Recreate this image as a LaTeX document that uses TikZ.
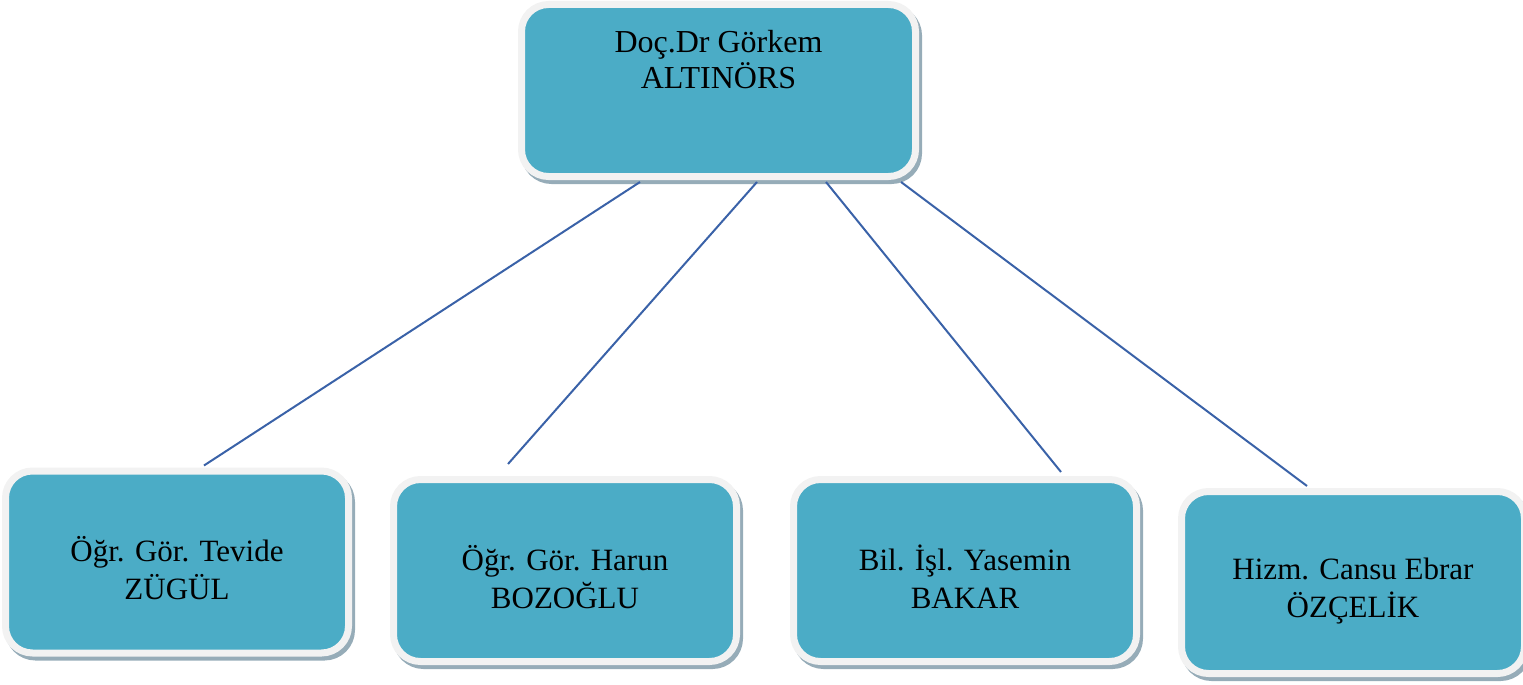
\documentclass[tikz,border=0pt]{standalone}
\usepackage{fontspec}
\setmainfont{Liberation Serif}
\usetikzlibrary{positioning,shadows,calc}
\definecolor{boxfill}{RGB}{75,172,198}
\definecolor{boxrim}{RGB}{242,242,242}
\definecolor{boxshade}{RGB}{150,172,184}
\definecolor{linkblue}{RGB}{58,98,168}
\newcommand{\upstrut}{\rule{0pt}{38pt}}

\begin{document}
\begin{tikzpicture}[x=1pt,y=-1pt,
    person/.style={draw=boxrim,fill=boxfill,line width=7pt,rounded corners=27pt,
      minimum width=343pt,minimum height=182pt,inner sep=0pt,align=center,
      font=\fontsize{31}{38}\selectfont,
      drop shadow={shadow xshift=3pt,shadow yshift=-4pt,fill=boxshade,
        draw=boxshade,line width=7pt,opacity=1}},
    link/.style={draw=linkblue,line width=2pt}]
    \useasboundingbox (0,0) rectangle (1523,685);

    % head of department
    \node[person,minimum width=394pt,minimum height=172pt] (dekan) at (718.5,90.5) {};
    \node[below=29pt of dekan.north,inner sep=0pt,align=center,
      font=\fontsize{32}{36}\selectfont] (dekanad) {Doç.Dr Görkem\\ALTINÖRS};

    % staff
    \node[person] (ogr1) at (177,562) {\upstrut Öğr. Gör. Tevide\\ZÜGÜL};
    \node[person] (ogr2) at (565,570.5) {\upstrut Öğr. Gör. Harun\\BOZOĞLU};
    \node[person] (bil) at (965,570.5) {\upstrut Bil. İşl. Yasemin\\BAKAR};
    \node[person] (hizm) at (1353,582.5) {\upstrut Hizm. Cansu Ebrar\\ÖZÇELİK};

    \draw[link] ([xshift=-78.5pt,yshift=-2pt]dekan.south) -- ([xshift=27pt,yshift=2pt]ogr1.north);
    \draw[link] ([xshift=38.5pt,yshift=-2pt]dekan.south) -- ([xshift=-57pt,yshift=12pt]ogr2.north);
    \draw[link] ([xshift=107.5pt,yshift=-2pt]dekan.south) -- ([xshift=96pt,yshift=4pt]bil.north);
    \draw[link] ([xshift=182.5pt,yshift=-2pt]dekan.south) -- ([xshift=-46pt,yshift=2pt]hizm.north);
\end{tikzpicture}
\end{document}
